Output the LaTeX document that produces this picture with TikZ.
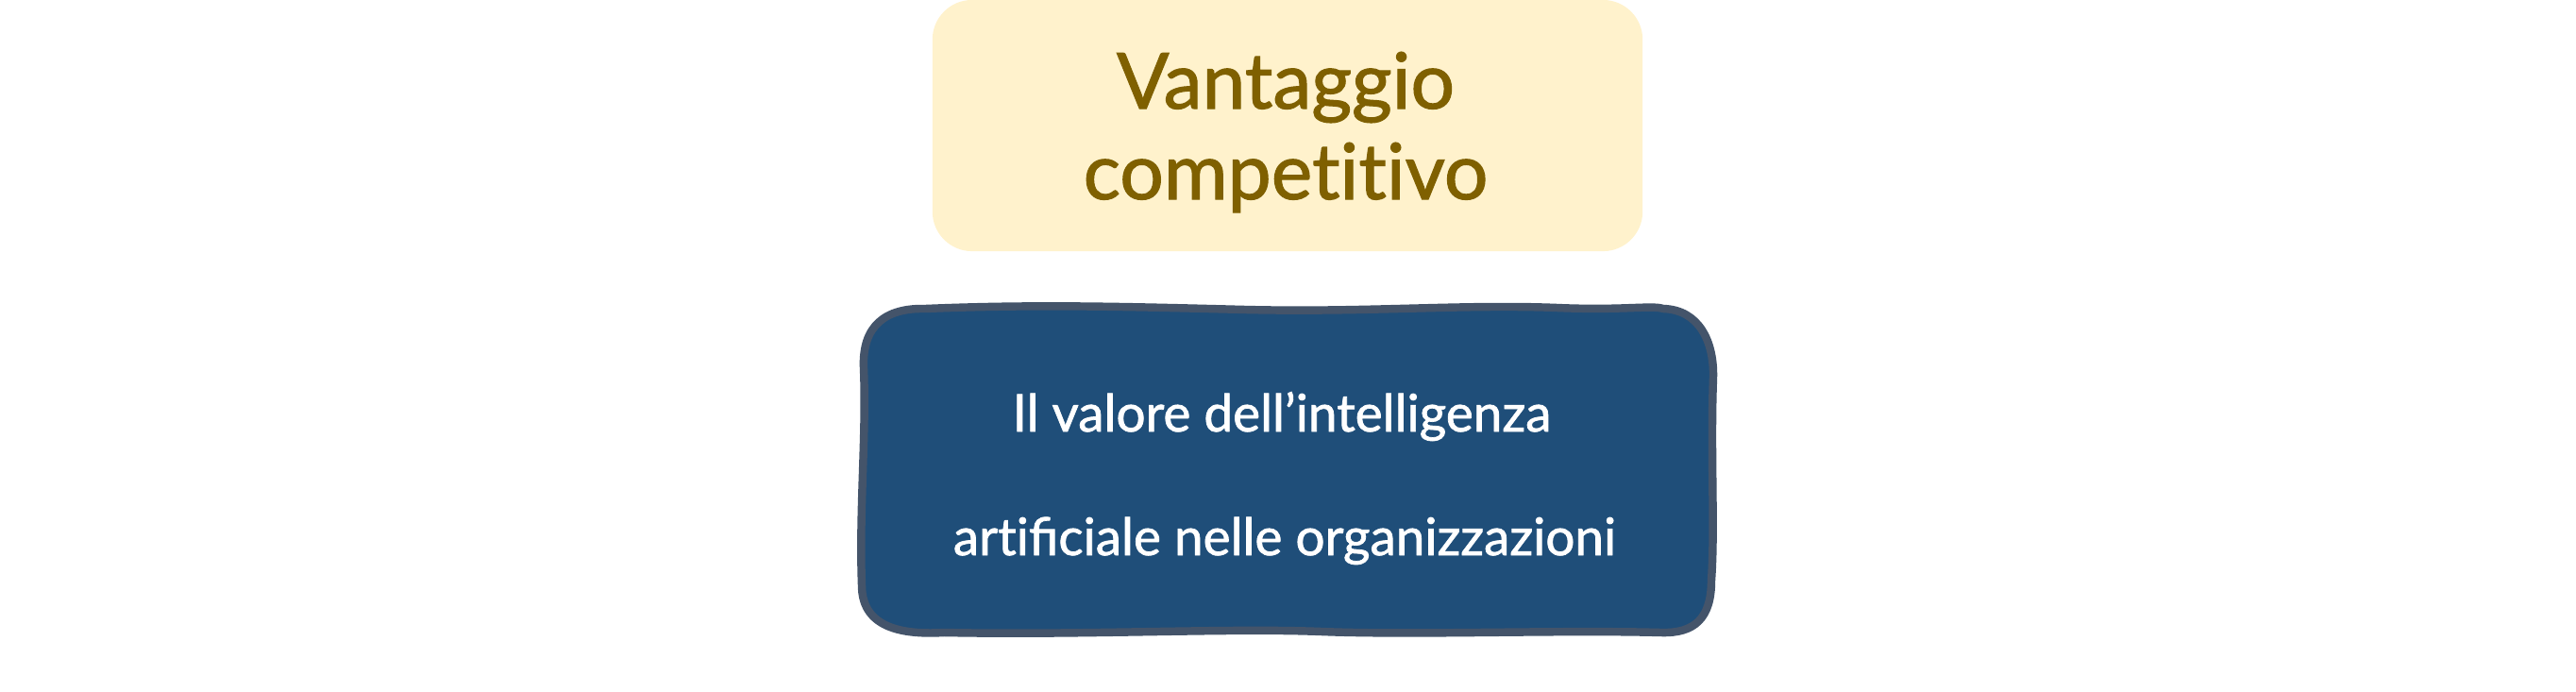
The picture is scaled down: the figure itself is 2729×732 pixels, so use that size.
\documentclass[tikz,border=0pt]{standalone}
\usepackage{fontspec}
\setmainfont{Lato}[Ligatures=NoCommon]
\newfontfamily\heavier{Lato}[Ligatures=NoCommon,FakeBold=1.3]
\definecolor{advfill}{HTML}{FFF2CC}
\definecolor{advtext}{HTML}{7F6000}
\definecolor{aifill}{HTML}{1F4E79}
\definecolor{aiborder}{HTML}{44546A}
\newcommand{\filig}{{\addfontfeature{Ligatures=Common}fi}}
\begin{document}
\begin{tikzpicture}[x=0.01cm,y=-0.01cm,
  advbox/.style={fill=advfill, draw=none, rounded corners=0.42cm, minimum width=7.52cm, minimum height=2.66cm, inner sep=0pt},
  advlabel/.style={text=advtext, font=\heavier\fontsize{23.4}{28}\selectfont, anchor=base, inner sep=0pt},
  wobble/.style={draw=aiborder, fill=aifill, line width=2.4pt, line join=round},
  ailabel/.style={text=white, font=\heavier\fontsize{15.6}{19}\selectfont, anchor=base, inner sep=0pt}]
\useasboundingbox (0,0) rectangle (2729,732);
\node[advbox] (adv) at (1364,133) {};
\node[advlabel] (advl1) at (1362,115) {Vantaggio};
\node[advlabel] (advl2) at (1362,211) {competitivo};
\draw[wobble] (915,390) .. controls (913,345) and (938,326) .. (980,327)
  .. controls (1100,322) and (1200,325) .. (1320,328)
  .. controls (1450,331) and (1550,322) .. (1650,326)
  .. controls (1720,329) and (1750,323) .. (1762,327)
  .. controls (1800,328) and (1816,362) .. (1815,400)
  .. controls (1812,480) and (1817,560) .. (1813,615)
  .. controls (1813,655) and (1795,671) .. (1760,670)
  .. controls (1650,667) and (1500,673) .. (1400,669)
  .. controls (1300,665) and (1150,673) .. (1000,670)
  .. controls (950,673) and (913,662) .. (913,620)
  .. controls (910,540) and (918,460) .. (915,390) -- cycle;
\node[ailabel] (ail1) at (1358,457) {Il valore dell’intelligenza};
\node[ailabel] (ail2) at (1361,588) {arti\filig ciale nelle organizzazioni};
\end{tikzpicture}
\end{document}
